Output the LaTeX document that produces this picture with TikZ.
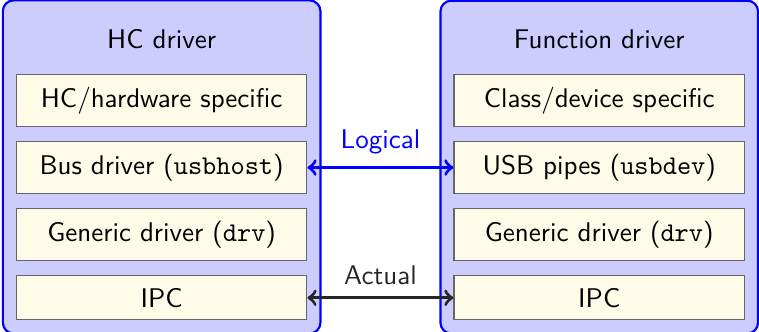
\documentclass[tikz,border=0pt]{standalone}
\usepackage{amsmath}
\usetikzlibrary{positioning, fit, backgrounds}
\definecolor{boxfill}{RGB}{255,251,233}

\begin{document}
\begin{tikzpicture}[
    % 以下样式也可以放在导言区 \tikzset{}
    font=\sffamily,
    % 层节点样式:米色填充,灰色细边框
    layer/.style={
        draw=black!60, % 边框颜色
        fill=boxfill, % 填充色:米色
        line width=0.4pt, % 边框宽度
        minimum width=107.5pt, % 固定宽度
        inner xsep=2pt,
        inner ysep=4.6pt
        },
    % 分组标题样式
    grouptitle/.style={inner sep=5.8pt},
    % 分组外框样式:蓝色圆角
    group/.style={
        draw=blue,
        thick,
        fill=blue!20,
        rounded corners=4pt,
        inner sep=4.8pt
        },
    % 连线样式:双向箭头
    link/.style={<->, line width=1.2pt},
    node distance=5.2pt
    ]
    \useasboundingbox (0,0) rectangle (280.8pt,-122.8pt);
    % ========== 第一步:左侧一列(HC driver) ==========
    \node [layer, anchor=north] (hcspec) at (59.8pt,-27.4pt) {HC/hardware specific};
    \node [layer, below=of hcspec] (hcbus) {Bus driver (\texttt{usbhost})};
    \node [layer, below=of hcbus] (hcgen) {Generic driver (\texttt{drv})};
    \node [layer, below=of hcgen] (hcipc) {IPC};
    \node [grouptitle, above=3.3pt of hcspec] (hctitle) {HC driver};
    % ========== 第二步:右侧一列(Function driver) ==========
    \node [layer, right=54pt of hcspec] (fnspec) {Class/device specific};
    \node [layer, below=of fnspec] (fnpipes) {USB pipes (\texttt{usbdev})};
    \node [layer, below=of fnpipes] (fngen) {Generic driver (\texttt{drv})};
    \node [layer, below=of fngen] (fnipc) {IPC};
    \node [grouptitle, above=3.3pt of fnspec] (fntitle) {Function driver};
    % ========== 第三步:外框放在背景层 ==========
    \begin{scope}[on background layer]
        \node [group, fit=(hctitle) (hcspec) (hcipc)] (hc) {};
        \node [group, fit=(fntitle) (fnspec) (fnipc)] (fn) {};
    \end{scope}
    % ========== 第四步:批量绘制双向箭头+标注 ==========
    \foreach \start/\end/\label/\col in {hcbus/fnpipes/Logical/blue, hcipc/fnipc/Actual/black!85} {
        \draw [link, draw=\col] (\start) -- node [above=1pt, text=\col] {\label} (\end);
    }
\end{tikzpicture}
\end{document}
